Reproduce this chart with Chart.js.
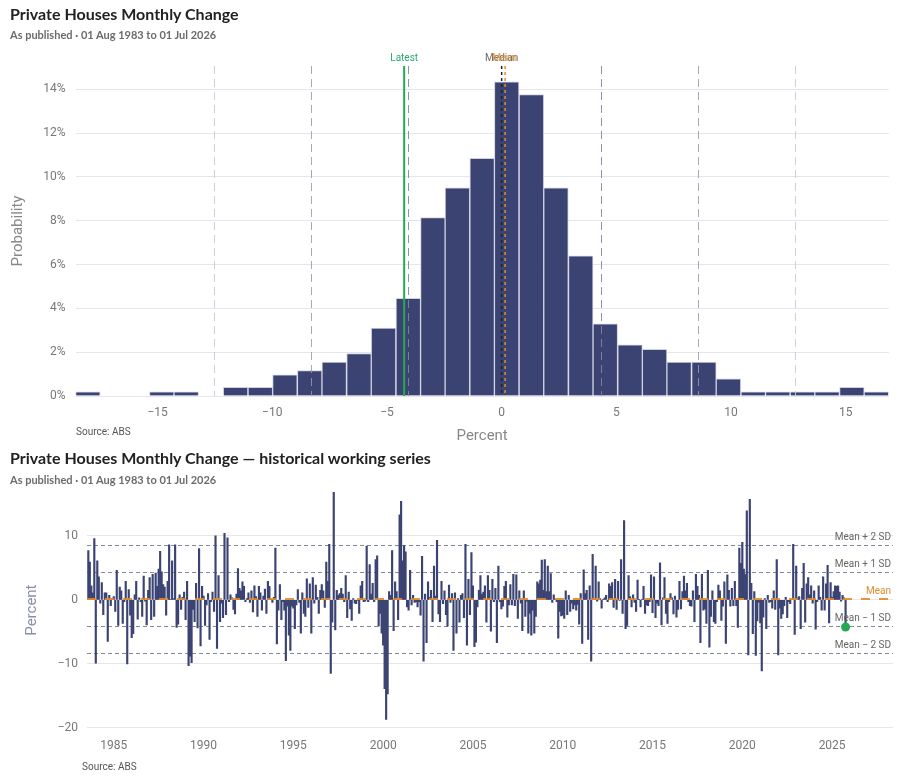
<!DOCTYPE html>
<html>
<head>
<meta charset="utf-8">
<script src="https://cdn.jsdelivr.net/npm/chart.js@4.4.1/dist/chart.umd.min.js"></script>
<style>
  html,body{margin:0;padding:0;background:#fff;}
  body{width:906px;height:778px;position:relative;overflow:hidden;font-family:Lato,"Noto Sans",sans-serif;}
  .wrap{position:absolute;left:0;width:906px;}
  .ttl{position:absolute;left:10px;font-family:Lato,"Noto Sans",sans-serif;font-weight:bold;font-size:16px;color:#222;white-space:nowrap;line-height:20px;}
  .sub{position:absolute;left:10px;font-family:Lato,"Noto Sans",sans-serif;font-weight:bold;font-size:11px;color:#6b6b6b;white-space:nowrap;line-height:14px;}
  .src{position:absolute;font-family:Roboto,"Liberation Sans",sans-serif;font-size:10px;color:#555;white-space:nowrap;line-height:12px;}
</style>
</head>
<body>
<div class="wrap" style="top:0;height:448px"><canvas id="c1" width="906" height="448"></canvas></div>
<div class="wrap" style="top:473px;height:305px"><canvas id="c2" width="906" height="305"></canvas></div>

<div class="ttl" style="top:4px">Private Houses Monthly Change</div>
<div class="sub" style="top:28px">As published · 01 Aug 1983 to 01 Jul 2026</div>
<div class="src" style="left:76px;top:426px">Source: ABS</div>
<div class="ttl" style="top:448px">Private Houses Monthly Change — historical working series</div>
<div class="sub" style="top:473px">As published · 01 Aug 1983 to 01 Jul 2026</div>
<div class="src" style="left:82px;top:761px">Source: ABS</div>

<script>
// ---------------- DATA ----------------
// Histogram bin centres (percent) and probability of each bin (%)
const histCenters = [-18.04,-16.97,-15.89,-14.82,-13.75,-12.67,-11.60,-10.52,-9.45,-8.37,-7.30,-6.22,-5.15,-4.07,-3.00,-1.93,-0.85,0.22,1.30,2.37,3.45,4.52,5.60,6.67,7.74,8.82,9.89,10.97,12.04,13.12,14.19,15.27,16.34];
const histProb = [0.19,0,0,0.19,0.19,0,0.39,0.39,0.97,1.16,1.55,1.94,3.10,4.46,8.14,9.50,10.85,14.34,13.76,9.50,6.40,3.29,2.33,2.13,1.55,1.55,0.78,0.19,0.19,0.19,0.19,0.39,0.19];
const histRange = [-18.58, 16.88];
const histXTicks = [-15,-10,-5,0,5,10,15];
const histYTicks = [0,2,4,6,8,10,12,14];

// Summary statistics
const statMean = 0.13;
const statMedian = 0.0;
const statSD = 4.22;
const statLatest = -4.25;

// Monthly series (percent), starting Aug 1983
const seriesStart = {year:1983, month:8};
const seriesValues = [
 7.7,5.9,2.2,1.1,9.6,-9.9,6.1,3.6,-0.5,2.7,
 -2.3,1.1,1.1,-6.5,0.7,-0.9,0.2,0.5,-1.8,4.6,
 -4.0,2.0,1.4,-3.7,-0.3,2.9,-10.0,1.6,-2.4,-5.9,
 -5.3,0.8,2.9,-3.0,0.3,-0.3,-2.6,3.7,-0.2,-3.9,
 1.5,3.5,-3.1,4.0,-2.6,4.2,2.1,4.8,7.6,4.4,
 2.4,2.0,-2.4,2.9,8.6,0.1,6.1,0.2,8.6,-4.3,
 -3.8,0.8,-1.5,0.4,1.2,-3.1,2.9,-10.3,-8.8,-9.8,
 -1.5,-3.4,2.6,-4.4,8.0,-7.2,2.1,0.6,-4.0,-0.8,
 1.0,-6.2,-0.3,1.2,-1.8,10.0,-7.6,3.8,-3.4,-0.5,
 -2.8,10.4,
 -2.3,9.7,-0.3,0.8,0.3,-1.5,-2.2,0.9,4.9,1.8,1.4,
 2.8,2.1,-0.3,0.2,1.1,-0.4,1.4,-1.9,2.2,0.5,-2.6,
 2.1,1.1,-1.6,0.6,1.7,-2.1,2.9,2.1,0.1,-0.4,
 0.4,8.1,-6.9,-1.6,2.4,-3.1,-0.3,-1.6,-9.5,-1.0,
 -5.5,-7.9,-1.0,-1.3,-4.5,-0.8,1.6,-0.4,-5.2,1.1,
 -2.1,-2.6,3.3,-1.2,2.5,-5.2,3.5,-0.5,2.3,0.4,-2.1,
 1.5,2.4,1.4,-1.2,5.9,2.9,8.7,-11.5,-3.5,16.8,
 -4.7,1.5,0.7,1.0,1.8,0.9,-0.3,3.8,-2.8,1.2,
 -1.4,-3.2,0.2,-0.5,-0.6,-0.1,-2.1,2.2,2.9,-0.3,
 -0.2,8.4,-0.3,5.5,0.9,2.6,-0.3,6.3,6.9,-4.1,
 -2.1,-5.2,-7.1,-13.9,-18.7,-14.7,1.3,0.7,7.7,-4.8,
 2.8,1.3,-3.1,13.3,15.4,6.1,8.5,7.5,-1.1,-1.6,
 4.6,-0.8,0.7,-0.4,-0.3,-1.1,-0.3,-2.4,6.8,-9.6,
 0.9,-6.7,2.8,0.4,1.5,-3.4,5.3,0.6,9.3,-2.2,
 -3.4,2.9,-0.6,1.4,-2.3,-4.1,2.3,-0.4,1.0,-7.9,
 1.1,-5.2,0.2,-3.5,0.7,1.0,-2.8,8.7,-7.1,3.2,
 -2.3,7.4,2.2,-7.3,-6.6,-1.1,1.5,3.8,0.9,1.2,
 2.2,-3.5,3.8,1.5,-4.9,3.2,-0.3,1.8,-6.7,5.3,
 -0.3,-1.4,-1.0,2.1,
 2.9,-2.7,-0.8,2.4,-0.8,4.0,-0.9,3.9,-2.9,1.4,
 -0.5,-4.8,1.4,-2.6,-0.2,-5.2,-2.1,-5.5,-1.6,-5.2,
 -2.6,2.8,2.5,3.1,6.2,1.5,6.3,1.3,5.3,1.3,
 4.1,-0.4,0.8,0.1,-0.3,-6.0,-1.8,-2.5,-2.4,-2.9,
 1.4,-2.3,0.7,-1.8,-0.5,-1.4,-0.8,-1.6,-0.7,-3.8,
 1.0,-6.8,4.7,1.0,1.5,-6.2,2.2,-9.6,7.1,0.2,
 5.3,-0.2,2.8,0.2,-1.3,0.1,0.3,0.7,-0.3,2.5,
 2.1,2.7,-1.2,3.2,-1.5,2.9,-0.1,6.3,-2.1,12.4,
 -4.5,-4.0,3.8,0.5,-1.1,0.8,-0.4,-1.8,3.1,0.1,
 -1.1,0.1,2.1,
 -2.1,-0.8,-0.9,-0.3,3.9,-2.0,3.6,-2.8,-0.5,-0.9,
 5.8,-3.9,0.3,3.5,-2.1,-3.7,-0.3,1.0,0.3,-2.2,
 0.6,-2.7,-1.5,2.9,-1.4,1.3,3.7,1.4,2.6,-0.3,
 -0.9,-1.0,1.4,-3.4,4.0,2.1,0.7,-6.7,4.0,-1.6,
 -1.4,-3.7,4.6,-7.4,-2.6,1.4,-3.4,-3.7,-0.3,2.3,
 1.4,-3.2,-1.0,2.8,-6.8,3.9,1.5,-1.0,1.8,-0.9,
 2.9,-0.9,-4.3,8.1,5.7,9.0,4.8,4.0,13.9,-8.6,
 15.7,2.6,-5.3,1.3,-8.7,-3.3,-0.4,-3.6,-11.1,-2.7,
 0.2,-4.5,0.7,-0.4,-0.3,-1.3,1.4,-1.5,6.3,-8.6,
 -1.3,-2.9,-2.2,-0.9,
 0.4,-2.8,-0.3,-0.6,0.1,8.7,-5.4,5.3,0.3,0.5,
 -4.5,1.8,5.7,-3.5,2.5,3.5,0.8,2.2,-0.5,1.4,
 -4.6,-0.3,2.2,0.4,-1.6,3.6,-1.6,2.5,5.4,-3.6,
 2.7,0.4,1.3,2.2,2.1,2.2,1.2,-0.2,0.7,0.3,
 -4.25
];
const seriesXRange = [1983.51, 2028.39];
const seriesYRange = [-20.5, 17.3];
const seriesXTicks = [1985,1990,1995,2000,2005,2010,2015,2020,2025];
const seriesYTicks = [-20,-10,0,10];
const bandLabels = ['Mean + 2 SD','Mean + 1 SD','Mean','Mean \u2212 1 SD','Mean \u2212 2 SD'];
const bandMultipliers = [2,1,0,-1,-2];

// ---------------- STYLE ----------------
const NAVY = '#3b4372';
const GREEN = '#24ab52';
const ORANGE = '#e08c2c';
const TICK_FONT = {family:'Roboto, "Liberation Sans", sans-serif', size:12};
const minus = v => (v < 0 ? '\u2212' + Math.abs(v) : String(v));
const seriesDates = seriesValues.map((_, i) => seriesStart.year + (seriesStart.month - 1 + i) / 12);

// ---------------- CHART 1: histogram ----------------
const histLines = {
  id: 'histLines',
  afterDatasetsDraw(chart) {
    const {ctx, chartArea: a, scales: {x}} = chart;
    ctx.save();
    const sdStyles = [
      {k: 1, color: 'rgba(130,135,160,0.9)'},
      {k: 2, color: 'rgba(150,154,175,0.85)'},
      {k: 3, color: 'rgba(200,202,214,0.9)'}
    ];
    ctx.lineWidth = 1;
    sdStyles.forEach(s => {
      [-1, 1].forEach(sign => {
        const px = Math.round(x.getPixelForValue(statMean + sign * s.k * statSD)) + 0.5;
        ctx.strokeStyle = s.color;
        ctx.setLineDash([8, 5]);
        ctx.beginPath(); ctx.moveTo(px, a.top); ctx.lineTo(px, a.bottom); ctx.stroke();
      });
    });
    // median
    let px = x.getPixelForValue(statMedian);
    ctx.setLineDash([3, 3]); ctx.lineWidth = 1.5; ctx.strokeStyle = '#222';
    ctx.beginPath(); ctx.moveTo(px, a.top); ctx.lineTo(px, a.bottom); ctx.stroke();
    // mean
    px = x.getPixelForValue(statMean) + 0.5;
    ctx.strokeStyle = ORANGE;
    ctx.beginPath(); ctx.moveTo(px, a.top); ctx.lineTo(px, a.bottom); ctx.stroke();
    // latest
    px = x.getPixelForValue(statLatest);
    ctx.setLineDash([]); ctx.lineWidth = 2; ctx.strokeStyle = GREEN;
    ctx.beginPath(); ctx.moveTo(px, a.top); ctx.lineTo(px, a.bottom); ctx.stroke();
    // labels
    ctx.font = '10px Roboto, "Liberation Sans", sans-serif';
    ctx.textAlign = 'center'; ctx.textBaseline = 'middle';
    ctx.fillStyle = '#2aa86e'; ctx.fillText('Latest', px, a.top - 8);
    ctx.fillStyle = 'rgba(90,80,70,0.85)'; ctx.fillText('Median', x.getPixelForValue(statMedian), a.top - 8);
    ctx.fillStyle = 'rgba(224,140,44,0.85)'; ctx.fillText('Mean', x.getPixelForValue(statMean), a.top - 8);
    ctx.restore();
  }
};

new Chart(document.getElementById('c1'), {
  type: 'bar',
  data: {
    datasets: [{
      data: histCenters.map((c, i) => ({x: c, y: histProb[i]})),
      backgroundColor: NAVY,
      borderColor: 'rgba(205,208,225,0.95)',
      borderWidth: 1,
      barPercentage: 1,
      categoryPercentage: 1
    }]
  },
  options: {
    responsive: false,
    animation: false,
    layout: {padding: {top: 66, right: 17.2, left: 0, bottom: 0}},
    plugins: {legend: {display: false}, tooltip: {enabled: false}},
    scales: {
      x: {
        type: 'linear', min: histRange[0], max: histRange[1], offset: false,
        grid: {display: false, drawTicks: false}, border: {display: false},
        afterBuildTicks: s => { s.ticks = histXTicks.map(v => ({value: v})); },
        afterFit: s => { s.height = 52; },
        ticks: {font: TICK_FONT, color: '#777', padding: 10, maxRotation: 0, callback: v => minus(v)},
        title: {display: true, text: 'Percent', color: '#888', font: {family: 'Roboto, sans-serif', size: 15}, padding: {top: 0, bottom: 3}}
      },
      y: {
        min: 0, max: 15.06,
        grid: {color: '#e5e5eb', drawTicks: false}, border: {display: false},
        afterBuildTicks: s => { s.ticks = histYTicks.map(v => ({value: v})); },
        afterFit: s => { s.width = 75.5; },
        ticks: {font: TICK_FONT, color: '#777', padding: 10, callback: v => v + '%'},
        title: {display: true, text: 'Probability', color: '#888', font: {family: 'Roboto, sans-serif', size: 15}, padding: {top: 9, bottom: 0}}
      }
    }
  },
  plugins: [histLines]
});

// ---------------- CHART 2: time series ----------------
const bands = {
  id: 'bands',
  beforeDatasetsDraw(chart) {
    const {ctx, chartArea: a, scales: {y}} = chart;
    ctx.save();
    ctx.lineWidth = 1; ctx.strokeStyle = 'rgba(120,124,150,0.9)'; ctx.setLineDash([4, 3]);
    bandMultipliers.forEach(k => {
      if (k === 0) return;
      const py = Math.round(y.getPixelForValue(statMean + k * statSD)) + 0.5;
      ctx.beginPath(); ctx.moveTo(a.left, py); ctx.lineTo(a.right, py); ctx.stroke();
    });
    ctx.restore();
  },
  afterDatasetsDraw(chart) {
    const {ctx, chartArea: a, scales: {y}} = chart;
    ctx.save();
    const py0 = y.getPixelForValue(statMean);
    ctx.lineWidth = 2; ctx.strokeStyle = 'rgba(224,140,44,0.9)'; ctx.setLineDash([9, 9]);
    ctx.beginPath(); ctx.moveTo(a.left, py0); ctx.lineTo(a.right, py0); ctx.stroke();
    ctx.setLineDash([]);
    ctx.font = '10px Roboto, "Liberation Sans", sans-serif';
    ctx.textAlign = 'right'; ctx.textBaseline = 'middle';
    bandMultipliers.forEach((k, i) => {
      const py = y.getPixelForValue(statMean + k * statSD);
      ctx.fillStyle = k === 0 ? ORANGE : '#666';
      ctx.fillText(bandLabels[i], a.right - 2, py - 7.5);
    });
    ctx.restore();
  }
};

const lastIdx = seriesValues.length - 1;
new Chart(document.getElementById('c2'), {
  type: 'bar',
  data: {
    datasets: [
      {
        type: 'scatter', order: 0,
        data: [{x: seriesDates[lastIdx], y: seriesValues[lastIdx]}],
        backgroundColor: GREEN, borderColor: GREEN, pointRadius: 4.5, borderWidth: 0
      },
      {
        type: 'bar', order: 1,
        data: seriesValues.map((v, i) => ({x: seriesDates[i], y: v})),
        backgroundColor: NAVY, borderWidth: 0,
        barPercentage: 1, categoryPercentage: 1
      }
    ]
  },
  options: {
    responsive: false,
    animation: false,
    layout: {padding: {top: 16, right: 13, left: 0, bottom: 0}},
    plugins: {legend: {display: false}, tooltip: {enabled: false}},
    scales: {
      x: {
        type: 'linear', min: seriesXRange[0], max: seriesXRange[1], offset: false,
        grid: {display: false, drawTicks: false}, border: {display: false},
        afterBuildTicks: s => { s.ticks = seriesXTicks.map(v => ({value: v})); },
        afterFit: s => { s.height = 47; },
        ticks: {font: TICK_FONT, color: '#777', padding: 8, maxRotation: 0, callback: v => String(v)}
      },
      y: {
        min: seriesYRange[0], max: seriesYRange[1],
        grid: {color: '#e5e5eb', drawTicks: false}, border: {display: false},
        afterBuildTicks: s => { s.ticks = seriesYTicks.map(v => ({value: v})); },
        afterFit: s => { s.width = 87; },
        ticks: {font: TICK_FONT, color: '#777', padding: 9, callback: v => minus(v)},
        title: {display: true, text: 'Percent', color: '#8a8ea8', font: {family: 'Roboto, sans-serif', size: 15}, padding: {top: 23, bottom: 0}}
      }
    }
  },
  plugins: [bands]
});
</script>
</body>
</html>
